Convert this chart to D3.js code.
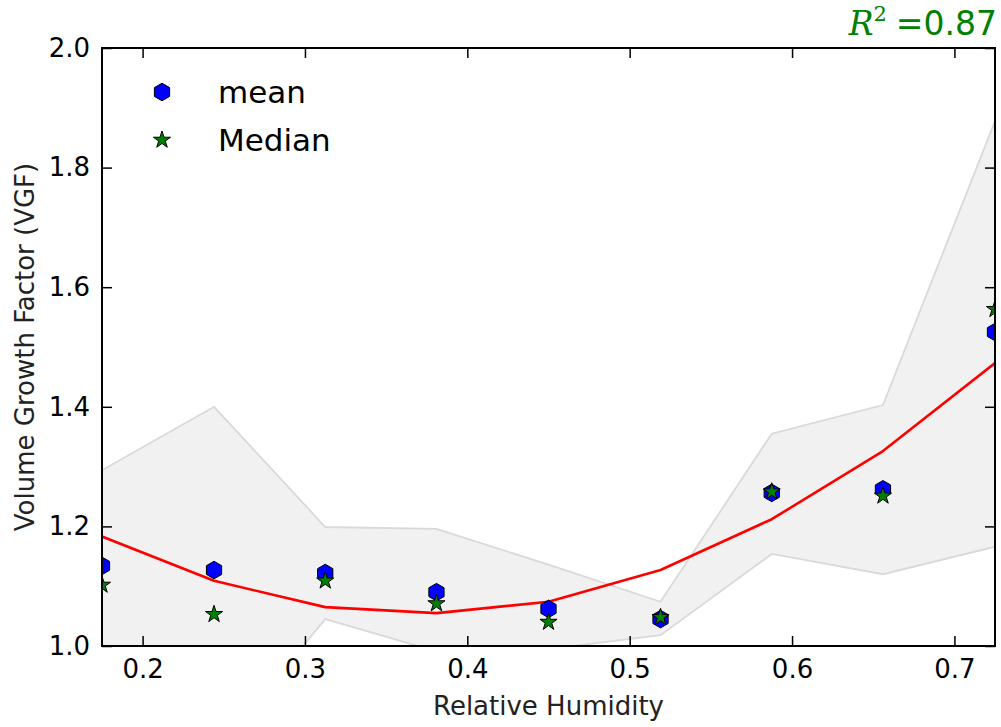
<!DOCTYPE html>
<html>
<head>
<meta charset="utf-8">
<script src="https://cdn.jsdelivr.net/npm/d3@7"></script>
<style>
  html, body { margin: 0; padding: 0; background: #fff; }
  svg text { font-family: "DejaVu Sans", sans-serif; }
</style>
</head>
<body>
<svg id="chart" width="1001" height="727"></svg>
<script>
// Relative humidity bins
const humidity = [0.175, 0.244, 0.3125, 0.381, 0.45, 0.519, 0.5875, 0.656, 0.725];
// Volume growth factor statistics per bin
const meanVGF   = [1.134, 1.127, 1.122, 1.090, 1.062, 1.045, 1.256, 1.262, 1.525];
const medianVGF = [1.102, 1.053, 1.109, 1.071, 1.040, 1.048, 1.258, 1.251, 1.563];
const fitVGF    = [1.183, 1.109, 1.065, 1.055, 1.074, 1.127, 1.212, 1.326, 1.473];
// Spread envelope
const upperVGF  = [1.294, 1.400, 1.199, 1.196, 1.136, 1.074, 1.355, 1.403, 1.878];
const lowerVGF  = [0.780, 0.821, 1.045, 0.991, 0.995, 1.018, 1.154, 1.120, 1.166];
// Axis ticks
const xTicks = [0.2, 0.3, 0.4, 0.5, 0.6, 0.7];
const yTicks = [1.0, 1.2, 1.4, 1.6, 1.8, 2.0];
const rSquared = "0.87";

const svg = d3.select("#chart");
const pLeft = 102, pRight = 995, pTop = 48, pBottom = 646;

const x = d3.scaleLinear().domain([0.175, 0.725]).range([pLeft, pRight]);
const y = d3.scaleLinear().domain([1.0, 2.0]).range([pBottom, pTop]);

svg.append("defs").append("clipPath").attr("id", "plotClip")
  .append("rect").attr("x", pLeft).attr("y", pTop)
  .attr("width", pRight - pLeft).attr("height", pBottom - pTop);

const plot = svg.append("g").attr("clip-path", "url(#plotClip)");

// Envelope band
const band = d3.area()
  .x((d, i) => x(humidity[i]))
  .y0((d, i) => y(lowerVGF[i]))
  .y1((d, i) => y(upperVGF[i]));
plot.append("path").datum(humidity).attr("d", band)
  .attr("fill", "#f1f1f1").attr("stroke", "none");
const edge = d3.line().x((d, i) => x(humidity[i])).y(d => y(d));
[upperVGF, lowerVGF].forEach(arr => {
  plot.append("path").datum(arr).attr("d", edge)
    .attr("fill", "none").attr("stroke", "#d9d9d9").attr("stroke-width", 1.8);
});

// Fit line
plot.append("path").datum(fitVGF).attr("d", edge)
  .attr("fill", "none").attr("stroke", "#ff0000").attr("stroke-width", 2.6)
  .attr("stroke-linejoin", "round");

// Marker shapes
function hexPath(r) {
  const pts = d3.range(6).map(k => {
    const a = Math.PI / 2 + k * Math.PI / 3;
    return [r * Math.cos(a), -r * Math.sin(a)];
  });
  return "M" + pts.map(p => p.join(",")).join("L") + "Z";
}
function starPath(r) {
  const ri = r * 0.381966;
  const pts = d3.range(10).map(k => {
    const a = Math.PI / 2 + k * Math.PI / 5;
    const rr = k % 2 === 0 ? r : ri;
    return [rr * Math.cos(a), -rr * Math.sin(a)];
  });
  return "M" + pts.map(p => p.join(",")).join("L") + "Z";
}
const hex = hexPath(8.8);
const star = starPath(9);

plot.selectAll(".mean").data(meanVGF).enter().append("path")
  .attr("class", "mean")
  .attr("d", hex)
  .attr("transform", (d, i) => `translate(${x(humidity[i])},${y(d)})`)
  .attr("fill", "#0000ff").attr("stroke", "#000").attr("stroke-width", 1);

plot.selectAll(".median").data(medianVGF).enter().append("path")
  .attr("class", "median")
  .attr("d", star)
  .attr("transform", (d, i) => `translate(${x(humidity[i])},${y(d)})`)
  .attr("fill", "#008000").attr("stroke", "#000").attr("stroke-width", 1);

// Axes: ticks inside on all four sides
const tickLen = 10;
const axB = svg.append("g").attr("transform", `translate(0,${pBottom})`)
  .call(d3.axisBottom(x).tickValues(xTicks).tickSize(-tickLen).tickFormat(d3.format(".1f")));
const axT = svg.append("g").attr("transform", `translate(0,${pTop})`)
  .call(d3.axisTop(x).tickValues(xTicks).tickSize(-tickLen).tickFormat(""));
const axL = svg.append("g").attr("transform", `translate(${pLeft},0)`)
  .call(d3.axisLeft(y).tickValues(yTicks).tickSize(-tickLen).tickPadding(12).tickFormat(d3.format(".1f")));
const axR = svg.append("g").attr("transform", `translate(${pRight},0)`)
  .call(d3.axisRight(y).tickValues(yTicks).tickSize(-tickLen).tickFormat(""));
[axB, axT, axL, axR].forEach(g => {
  g.select(".domain").remove();
  g.selectAll(".tick line").attr("stroke", "#000").attr("stroke-width", 1.5);
  g.selectAll(".tick text").attr("font-size", 26).attr("fill", "#000")
    .attr("font-family", "DejaVu Sans, sans-serif");
});
axB.selectAll(".tick text").attr("dy", null).attr("y", 32);
axL.selectAll(".tick text").attr("x", -12);

// Frame
svg.append("rect").attr("x", pLeft).attr("y", pTop)
  .attr("width", pRight - pLeft).attr("height", pBottom - pTop)
  .attr("fill", "none").attr("stroke", "#000").attr("stroke-width", 2);

// Axis titles
svg.append("text").attr("x", (pLeft + pRight) / 2).attr("y", 715)
  .attr("text-anchor", "middle").attr("font-size", 26).attr("fill", "#222")
  .text("Relative Humidity");
svg.append("text")
  .attr("transform", `translate(34,${(pTop + pBottom) / 2}) rotate(-90)`)
  .attr("text-anchor", "middle").attr("font-size", 26).attr("fill", "#222")
  .text("Volume Growth Factor (VGF)");

// R² annotation
const r2 = svg.append("text").attr("x", 997).attr("y", 35)
  .attr("text-anchor", "end").attr("fill", "#008000").attr("font-size", 33);
r2.append("tspan").attr("font-family", "DejaVu Serif, serif").attr("font-style", "italic").text("R");
r2.append("tspan").attr("font-family", "DejaVu Serif, serif").attr("font-size", 21).attr("dy", -14).text("2");
r2.append("tspan").attr("dy", 14).attr("dx", 9).text("=" + rSquared);

// Legend
const legend = svg.append("g");
legend.append("path").attr("d", hex).attr("transform", "translate(162,92)")
  .attr("fill", "#0000ff").attr("stroke", "#000").attr("stroke-width", 1);
legend.append("path").attr("d", star).attr("transform", "translate(162,140)")
  .attr("fill", "#008000").attr("stroke", "#000").attr("stroke-width", 1);
legend.append("text").attr("x", 218).attr("y", 103).attr("font-size", 31).attr("fill", "#000").text("mean");
legend.append("text").attr("x", 218).attr("y", 151).attr("font-size", 31).attr("fill", "#000").text("Median");
</script>
</body>
</html>
